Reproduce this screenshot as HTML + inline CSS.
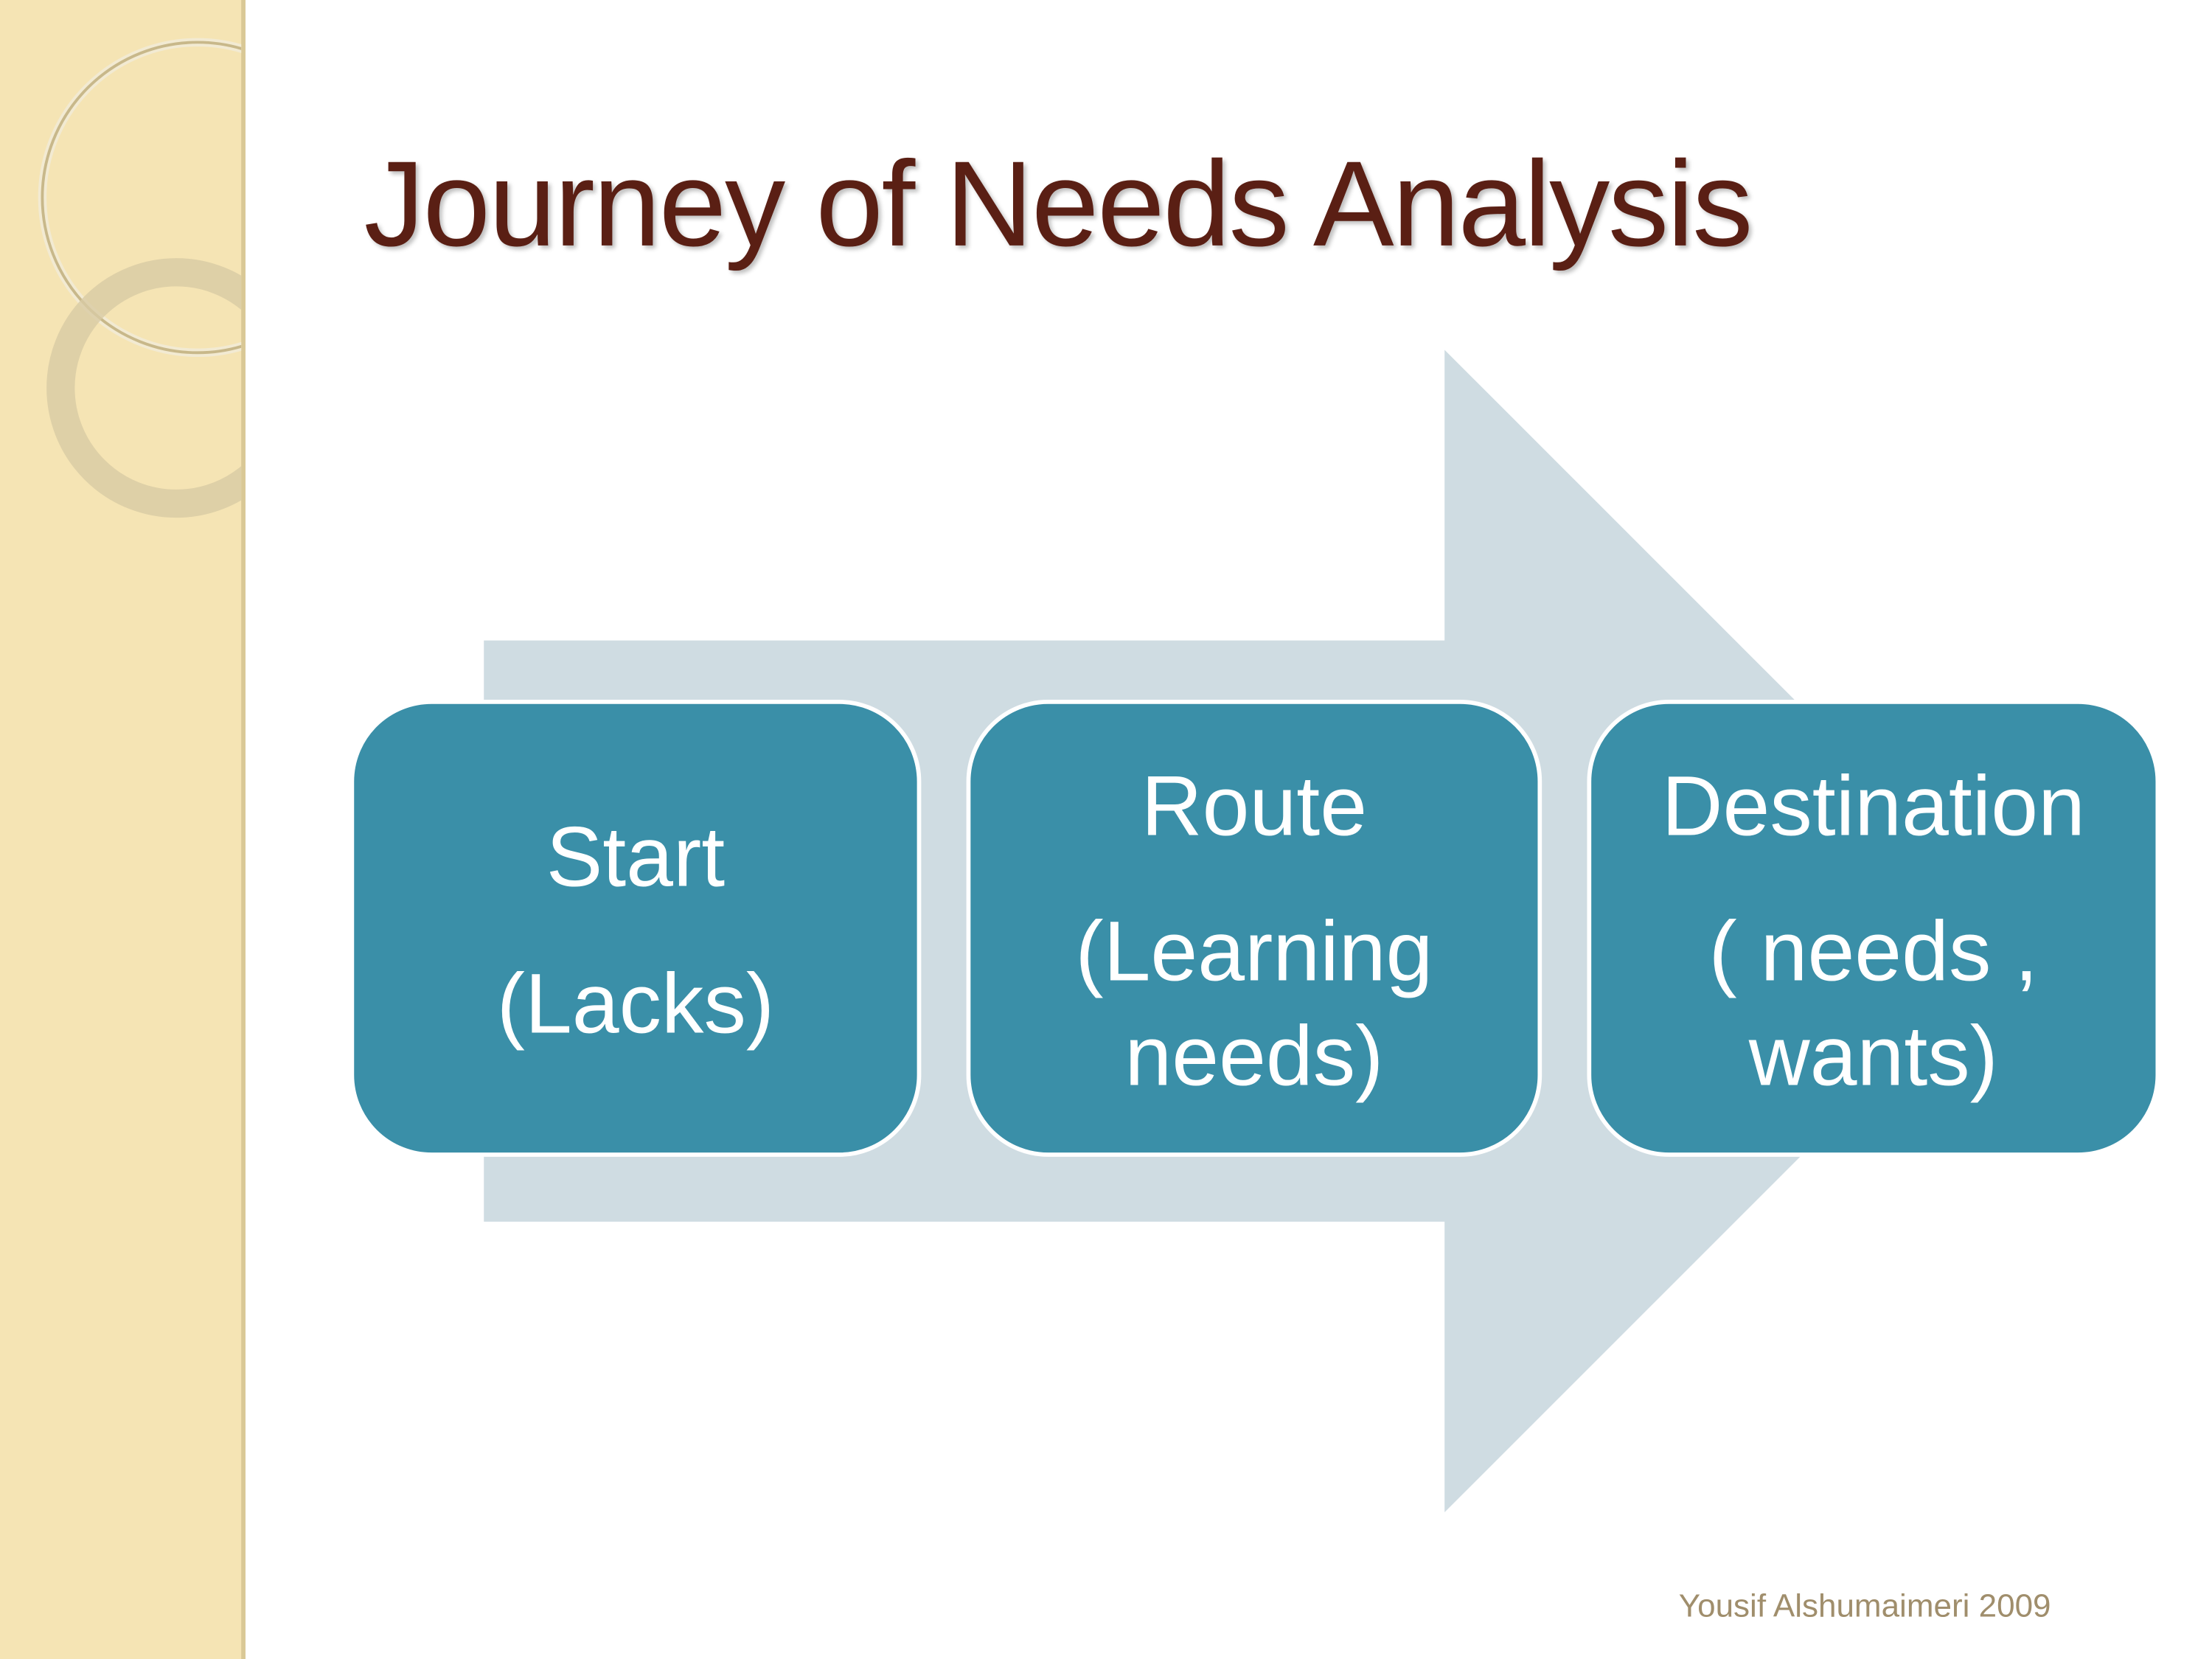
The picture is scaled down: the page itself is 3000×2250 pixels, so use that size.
<!DOCTYPE html>
<html><head><meta charset="utf-8"><style>
html,body{margin:0;padding:0;background:#fff;}
#w{width:1568px;height:1176px;position:relative;transform:scale(1.91327);transform-origin:0 0;overflow:hidden;font-family:"Liberation Sans",sans-serif;}
.side{position:absolute;left:0;top:0;width:171px;height:1176px;background:#f5e4b4;border-right:3px solid #d9c896;}
.t{position:absolute;left:258px;top:96px;font-size:86px;color:#5a1f14;letter-spacing:-1.2px;white-space:nowrap;text-shadow:2px 2px 3px rgba(0,0,0,0.25);}
.box{position:absolute;top:496px;height:324px;background:#3a8fa8;border:3px solid #fff;border-radius:58px;box-sizing:border-box;color:#fff;text-align:center;font-size:60px;line-height:74px;}
.box div{white-space:nowrap;}
.f{position:absolute;left:1190px;top:1125px;font-size:23px;color:#a08e6c;white-space:nowrap;}
</style></head><body><div id="w">
<div class="side"></div>
<svg width="1568" height="1176" style="position:absolute;left:0;top:0">
<defs><clipPath id="c"><rect x="0" y="0" width="171" height="1176"/></clipPath></defs>
<g clip-path="url(#c)">
<circle cx="140" cy="140" r="110" fill="none" stroke="#f2ead2" stroke-width="6"/>
<circle cx="140" cy="140" r="110" fill="none" stroke="#c8b88a" stroke-width="2"/>
<circle cx="125" cy="275" r="82" fill="none" stroke="#d8cba4" stroke-width="20" opacity="0.8"/>
</g>
<polygon points="343,454 1024,454 1024,248 1436,660 1024,1072 1024,866 343,866" fill="#cfdce2"/>
</svg>
<div class="t">Journey of Needs Analysis</div>
<div class="box" style="left:248px;width:405px;padding-top:72px"><div>Start</div><div style="margin-top:30px">(Lacks)</div></div>
<div class="box" style="left:685px;width:408px;padding-top:36px"><div>Route</div><div style="margin-top:29px">(Learning</div><div>needs)</div></div>
<div class="box" style="left:1125px;width:406px;padding-top:36px"><div>Destination</div><div style="margin-top:29px">( needs ,</div><div>wants)</div></div>
<div class="f">Yousif Alshumaimeri 2009</div>
</div></body></html>
